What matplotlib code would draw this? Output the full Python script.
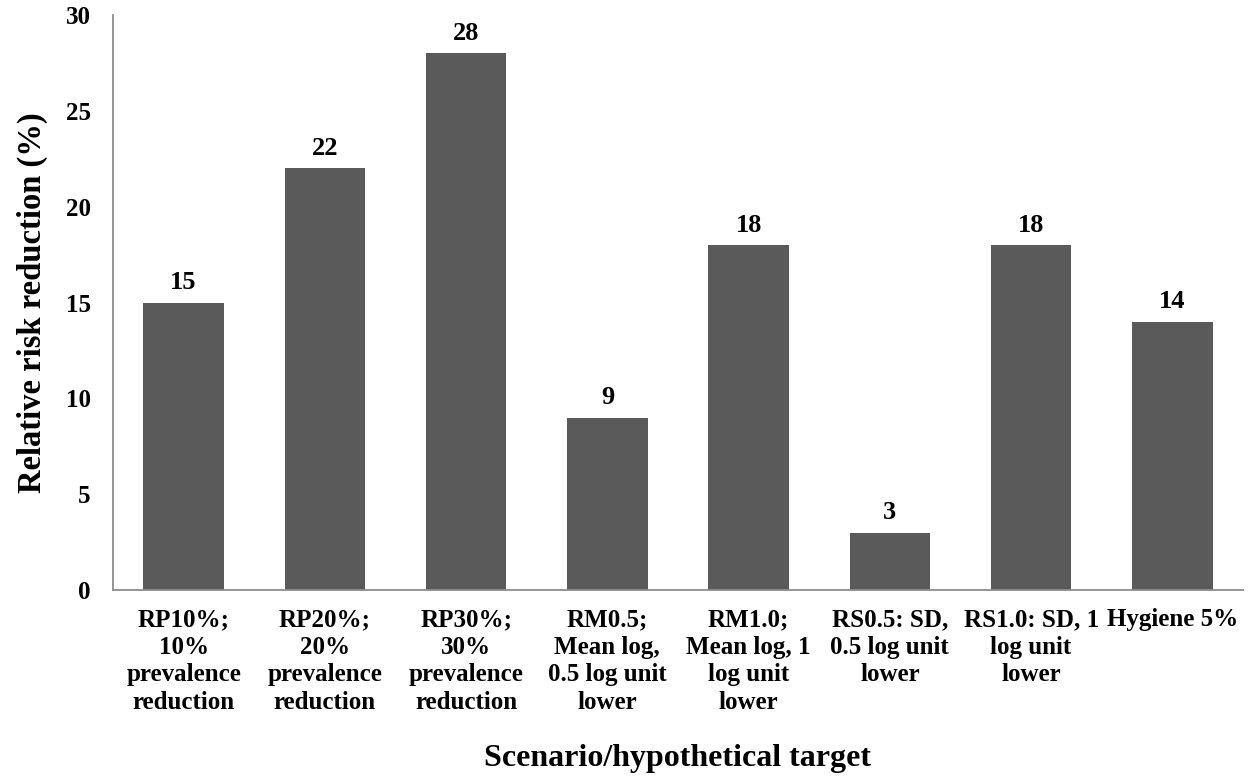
import matplotlib
matplotlib.use("Agg")
import matplotlib.pyplot as plt

categories = [
    "RP10%;\n10%\nprevalence\nreduction",
    "RP20%;\n20%\nprevalence\nreduction",
    "RP30%;\n30%\nprevalence\nreduction",
    "RM0.5;\nMean log,\n0.5 log unit\nlower",
    "RM1.0;\nMean log, 1\nlog unit\nlower",
    "RS0.5: SD,\n0.5 log unit\nlower",
    "RS1.0: SD, 1\nlog unit\nlower",
    "Hygiene 5%",
]
values = [15, 22, 28, 9, 18, 3, 18, 14]
yticks = [0, 5, 10, 15, 20, 25, 30]

plt.rcParams["font.family"] = ["Liberation Serif", "DejaVu Serif"]
plt.rcParams["font.weight"] = "bold"

fig = plt.figure(figsize=(12.51, 7.8), dpi=100)
ax = fig.add_axes([113 / 1251, 1 - 590 / 780, 1130 / 1251, 575 / 780])

x = range(len(categories))
bars = ax.bar(x, values, width=0.57, color="#5a5a5a", zorder=2)
for b, v in zip(bars, values):
    ax.annotate(f"{v}", (b.get_x() + b.get_width() / 2, v), xytext=(0, 6),
                textcoords="offset points", ha="center", va="bottom",
                fontsize=19, fontweight="bold")

ax.set_xlim(-0.5, len(categories) - 0.5)
ax.set_ylim(0, 30)
ax.set_yticks(yticks)
ax.set_yticklabels([str(t) for t in yticks], fontsize=18, fontweight="bold")
ax.set_xticks(list(x))
ax.set_xticklabels(categories, fontsize=18, fontweight="bold", linespacing=1.25)
ax.tick_params(axis="both", length=0)
ax.tick_params(axis="y", pad=16)
ax.tick_params(axis="x", pad=13)

for s in ["top", "right"]:
    ax.spines[s].set_visible(False)
for s in ["left", "bottom"]:
    ax.spines[s].set_color("#8c8c8c")
    ax.spines[s].set_linewidth(1.3)

ax.set_ylabel("Relative risk reduction (%)", fontsize=23.5, fontweight="bold", labelpad=13)
ax.set_xlabel("Scenario/hypothetical target", fontsize=23, fontweight="bold", labelpad=22)

fig.savefig("out.png", dpi=100)
